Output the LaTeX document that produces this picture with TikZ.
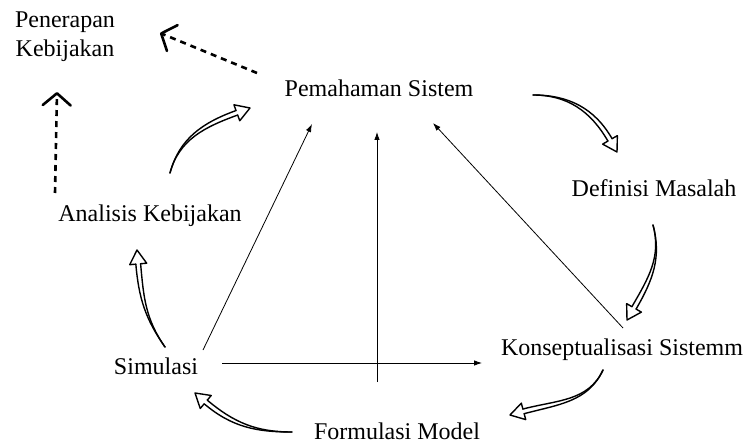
\documentclass[tikz,border=0pt]{standalone}
\usepackage{fontspec}
\setmainfont{Liberation Serif}
\usetikzlibrary{arrows.meta,calc}
\newcommand\harr[4]{%
  \path ($(#3)+(#4+180:14)$) coordinate (hb);
  \draw[hline] (#1) to[out=#2,in=#4+180] ([shift={(#4+90:2.4)}]hb);
  \draw[hline] (#1) to[out=#2,in=#4+180] ([shift={(#4-90:2.4)}]hb);
  \draw[hline] ([shift={(#4+90:2.4)}]hb) -- ([shift={(#4+90:8.5)}]hb) -- (#3)
     -- ([shift={(#4-90:8.5)}]hb) -- ([shift={(#4-90:2.4)}]hb);
}
\begin{document}
\begin{tikzpicture}[x=1pt,y=1pt,
  lbl/.style={anchor=base, inner sep=0pt, font=\fontsize{24}{28}\selectfont},
  thin/.style={line width=0.8pt, -{Latex[length=8pt,width=5.5pt]}},
  hline/.style={line width=1.4pt, line join=round, line cap=round},
  dasharrow/.style={line width=2.6pt, dash pattern=on 6pt off 5pt,
     -{Straight Barb[length=12pt, width=28pt, line width=2.6pt, round]}}]
\useasboundingbox (0,0) rectangle (746,-446);

% labels
\node[lbl] (pen1) at (65,-28) {Penerapan};
\node[lbl] (pen2) at (65,-57) {Kebijakan};
\node[lbl] (pem) at (379,-97) {Pemahaman Sistem};
\node[lbl] (def) at (654,-197) {Definisi Masalah};
\node[lbl] (kon) at (622,-355) {Konseptualisasi Sistemm};
\node[lbl] (for) at (397,-439) {Formulasi Model};
\node[lbl] (sim) at (156,-374) {Simulasi};
\node[lbl] (ana) at (150,-222) {Analisis Kebijakan};

% connector end points
\coordinate (simA) at (203,-350);
\coordinate (pemA) at (312,-124);
\coordinate (cenB) at (377,-382);
\coordinate (pemB) at (377,-132);
\coordinate (simC) at (222,-363);
\coordinate (konC) at (482,-363);
\coordinate (konD) at (623,-328);
\coordinate (pemD) at (433,-123);

\draw[thin] (simA) -- (pemA);
\draw[thin] (cenB) -- (pemB);
\draw[thin] (simC) -- (konC);
\draw[thin] (konD) -- (pemD);

% cycle arrows
\coordinate (a1s) at (170,-173); \coordinate (a1e) at (250,-108);
\coordinate (a2s) at (533,-95);  \coordinate (a2e) at (617,-152);
\coordinate (a3s) at (653,-225); \coordinate (a3e) at (627,-320);
\coordinate (a4s) at (603,-370); \coordinate (a4e) at (510,-415);
\coordinate (a5s) at (292,-432); \coordinate (a5e) at (195,-393);
\coordinate (a6s) at (165,-347); \coordinate (a6e) at (137,-250);

\harr{a1s}{75}{a1e}{20}
\harr{a2s}{0}{a2e}{-60}
\harr{a3s}{-75}{a3e}{-120}
\harr{a4s}{-115}{a4e}{195}
\harr{a5s}{180}{a5e}{140}
\harr{a6s}{125}{a6e}{95}

% dashed arrows
\coordinate (d1s) at (257,-73); \coordinate (d1e) at (160,-33);
\coordinate (d2s) at (55,-193); \coordinate (d2e) at (57,-92);
\draw[dasharrow] (d1s) -- (d1e);
\draw[dasharrow] (d2s) -- (d2e);
\end{tikzpicture}
\end{document}
